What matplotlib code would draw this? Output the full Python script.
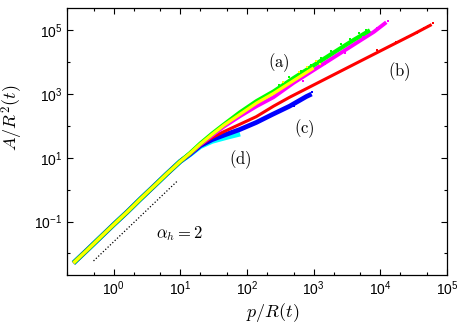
import matplotlib.pyplot as plt
import numpy as np
from matplotlib.ticker import LogLocator, NullFormatter

plt.rcParams['font.family'] = ['Liberation Sans', 'DejaVu Sans']
plt.rcParams['mathtext.fontset'] = 'cm'

# shared small-p collapse, A = p^2 / 4pi
x_base = [0.25, 0.4, 0.63, 1.0, 1.6, 2.5, 4.0, 6.3, 10.0]
y_base = [0.005, 0.0127, 0.0316, 0.08, 0.2, 0.5, 1.27, 3.15, 7.7]

# branches after the bend
x_yellow = [14, 20, 30, 45, 78, 140, 250, 500, 1000]
y_yellow = [13.8, 27, 54, 105, 229, 525, 1047, 2630, 6600]
x_green = [14, 20, 30, 45, 78, 140, 250, 500, 1000, 2000, 4000, 7000]
y_green = [14, 28, 57, 110, 263, 603, 1200, 3160, 7940, 20000, 50000, 100000]
x_magenta = [14, 20, 30, 45, 78, 140, 250, 500, 1000, 2000, 4000, 8000, 12300]
y_magenta = [13.5, 26, 50, 95, 200, 417, 794, 2240, 5620, 14100, 35500, 89000, 178000]
x_red = [14, 20, 30, 45, 78, 138, 251, 437, 1230, 4900, 13800, 31600, 58900]
y_red = [13.2, 25, 43, 66, 112, 195, 417, 794, 2400, 10500, 31600, 76000, 151000]
x_blue = [14, 20, 30, 45, 78, 138, 240, 437, 776, 933]
y_blue = [13, 24, 37, 51, 77, 128, 228, 417, 832, 1000]
x_cyan = [14, 20, 30, 50, 79]
y_cyan = [12.6, 22.5, 33, 44, 56]

# sparse outlying points near the ends of the bands
xs_green = [300, 420, 650, 900, 1300, 1800, 2600, 3500, 4800, 6000]
ys_green = [1900, 3300, 5200, 8300, 13500, 22000, 36000, 52000, 80000, 105000]
xs_yellow = [350, 600, 800, 1100, 1250]
ys_yellow = [2300, 5000, 6900, 10500, 9000]
xs_magenta = [700, 1500, 3000, 5500, 9000, 11000, 13000]
ys_magenta = [2500, 9000, 20000, 62000, 120000, 150000, 200000]
xs_red = [9000, 17000, 25000, 36000, 45000, 52000, 62000]
ys_red = [24000, 42000, 62000, 80000, 115000, 140000, 165000]
xs_blue = [500, 700, 850, 950]
ys_blue = [430, 700, 900, 1150]

# alpha_h = 2 guide
x_guide = [0.5, 9.0]
y_guide = [0.0058, 1.85]

fig = plt.figure(figsize=(4.63, 3.25), dpi=100)
ax = fig.add_axes([0.1447, 0.1538, 0.8207, 0.8216])

series = [
    (x_cyan, y_cyan, '#00ffff', 3.6),
    (x_blue, y_blue, '#0000ff', 3.4),
    (x_red, y_red, '#ff0000', 2.2),
    (x_magenta, y_magenta, '#ff00ff', 2.8),
    (x_green, y_green, '#00ff00', 3.0),
    (x_yellow, y_yellow, '#ffff00', 2.3),
]
for xb, yb, c, lw in series:
    ax.plot(x_base + xb, y_base + yb, color=c, lw=lw, solid_capstyle='butt', zorder=2)

for xs, ys, c in [(xs_green, ys_green, '#00ff00'), (xs_yellow, ys_yellow, '#ffff00'),
                  (xs_magenta, ys_magenta, '#ff00ff'), (xs_red, ys_red, '#ff0000'),
                  (xs_blue, ys_blue, '#0000ff')]:
    ax.scatter(xs, ys, s=2, color=c, marker='s', linewidths=0, zorder=3)

ax.plot(x_guide, y_guide, color='black', lw=0.9, linestyle=(0, (1, 1.6)))

ax.set_xscale('log')
ax.set_yscale('log')
ax.set_xlim(0.2, 1e5)
ax.set_ylim(0.0021, 5e5)

ax.xaxis.set_major_locator(LogLocator(base=10, numticks=10))
ax.xaxis.set_minor_locator(LogLocator(base=10, subs=[2, 5], numticks=10))
ax.xaxis.set_minor_formatter(NullFormatter())
ax.set_yticks([0.1, 10, 1000, 1e5])
ax.set_yticks([0.01, 1, 100, 1e4], minor=True)
ax.yaxis.set_minor_formatter(NullFormatter())
ax.tick_params(which='both', direction='in', top=True, right=True, labelsize=10)
ax.tick_params(which='major', length=4.5, width=0.8)
ax.tick_params(which='minor', length=2.5, width=0.8)
for s in ax.spines.values():
    s.set_linewidth(0.9)

ax.set_xlabel(r'$p/R(t)$', fontsize=13, va='center')
ax.set_ylabel(r'$A/R^2(t)$', fontsize=13, va='center')
ax.xaxis.set_label_coords(0.54, -0.142)
ax.yaxis.set_label_coords(-0.145, 0.588)

ax.text(0.558, 0.794, r'$\mathrm{(a)}$', transform=ax.transAxes, ha='center', va='center', fontsize=12)
ax.text(0.874, 0.760, r'$\mathrm{(b)}$', transform=ax.transAxes, ha='center', va='center', fontsize=12)
ax.text(0.626, 0.547, r'$\mathrm{(c)}$', transform=ax.transAxes, ha='center', va='center', fontsize=12)
ax.text(0.455, 0.431, r'$\mathrm{(d)}$', transform=ax.transAxes, ha='center', va='center', fontsize=12)
ax.text(0.297, 0.157, r'$\alpha_h=2$', transform=ax.transAxes, ha='center', va='center', fontsize=12)

fig.savefig('out.png', dpi=100)
